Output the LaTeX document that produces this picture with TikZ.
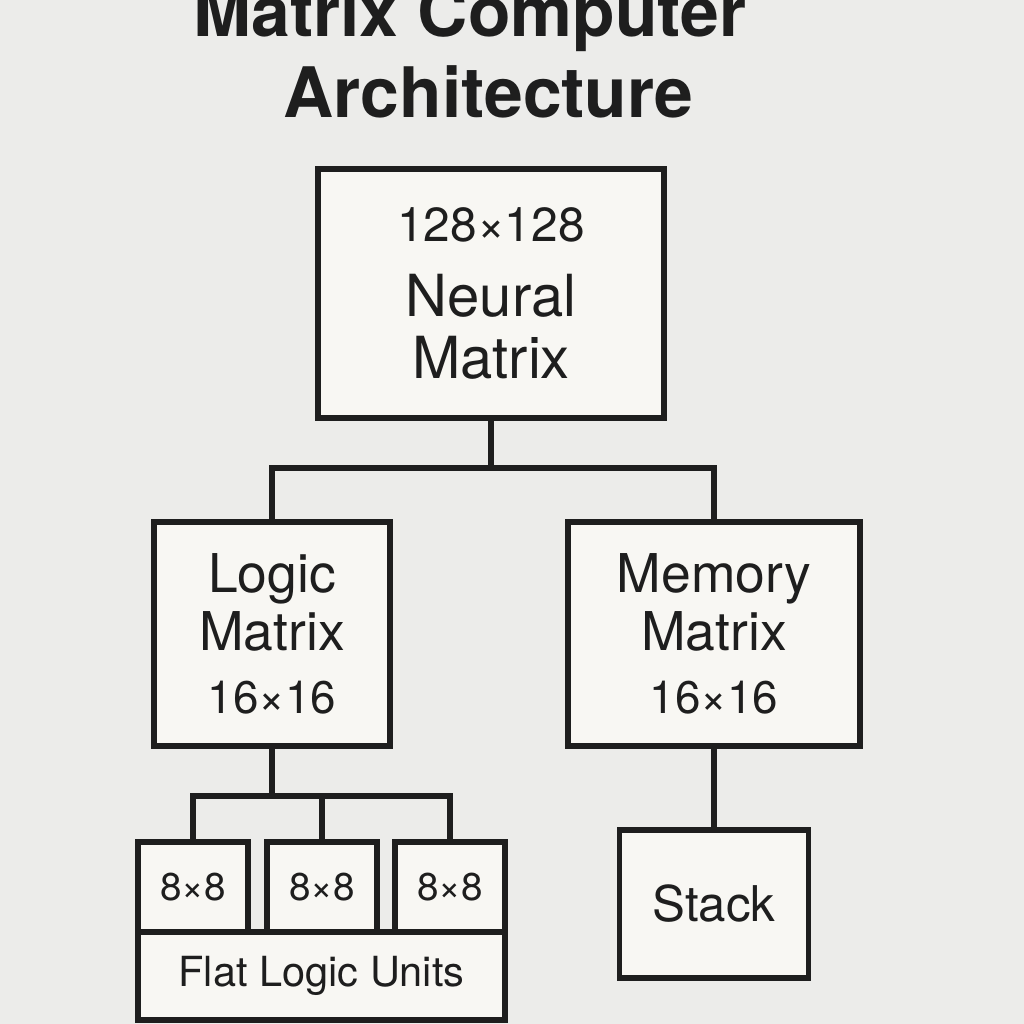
\documentclass[tikz,border=0pt]{standalone}
\usepackage{fontspec}
\setmainfont{TeX Gyre Heros}
\usetikzlibrary{calc}
\definecolor{paper}{HTML}{ECECEA}
\definecolor{boxfill}{HTML}{F8F7F3}
\definecolor{ink}{HTML}{1E1E1E}
\newcommand{\fsz}[1]{\fontsize{#1}{16pt}\selectfont}
\tikzstyle{block}=[rectangle,draw=ink,fill=boxfill,line width=1.6pt,inner sep=0pt,align=center,text=ink]
\tikzstyle{wire}=[draw=ink,line width=1.6pt]
\tikzstyle{title}=[text=ink,font=\bfseries\fontsize{19.8}{24}\selectfont,inner sep=0pt]

\begin{document}
\begin{tikzpicture}[x=0.01cm,y=-0.01cm]
	\useasboundingbox (0,0) rectangle (1024,1024);
	\clip (0,0) rectangle (1024,1024);
	\fill[paper] (0,0) rectangle (1024,1024);

	% title
	\node[title, anchor=base] (title1) at (470,36) {Matrix Computer};
	\node[title, anchor=base] (title2) at (488.5,117) {Architecture};

	% blocks
	\node[block, minimum width=3.46cm, minimum height=2.49cm, font=\fsz{16.5}] (neural) at (491,293.5)
		{{\fsz{13.6}128×128}\\[5.3pt]Neural\\[1.9pt]Matrix};
	\node[block, minimum width=2.36cm, minimum height=2.24cm, font=\fsz{15.2}] (logic) at (272,634)
		{Logic\\[0.5pt]Matrix\\[1.9pt]{\fsz{13}16×16}};
	\node[block, minimum width=2.92cm, minimum height=2.24cm, font=\fsz{15.2}] (memory) at (714,634)
		{Memory\\[0.5pt]Matrix\\[1.9pt]{\fsz{13}16×16}};

	\node[block, minimum width=3.67cm, minimum height=0.88cm, font=\fsz{11.8}] (flat) at (321.5,976) {Flat Logic Units};
	\node[block, minimum width=1.10cm, minimum height=0.90cm, font=\fsz{11}] (unit1) at (193,887) {8×8};
	\node[block, minimum width=1.10cm, minimum height=0.90cm, font=\fsz{11}] (unit2) at (322,887) {8×8};
	\node[block, minimum width=1.10cm, minimum height=0.90cm, font=\fsz{11}] (unit3) at (450,887) {8×8};

	\node[block, minimum width=1.89cm, minimum height=1.48cm, font=\fsz{14}] (stack) at (714,904) {Stack};

	% connectors
	\coordinate (split1) at (491,468);
	\coordinate (split2) at (272,796);
	\draw[wire] (neural.south) -- (split1);
	\draw[wire] (split1) -| (logic.north);
	\draw[wire] (split1) -| (memory.north);
	\draw[wire] (logic.south) -- (split2);
	\draw[wire] (split2) -| (unit1.north);
	\draw[wire] (split2) -| (unit2.north);
	\draw[wire] (split2) -| (unit3.north);
	\draw[wire] (memory.south) -- (stack.north);
\end{tikzpicture}
\end{document}
